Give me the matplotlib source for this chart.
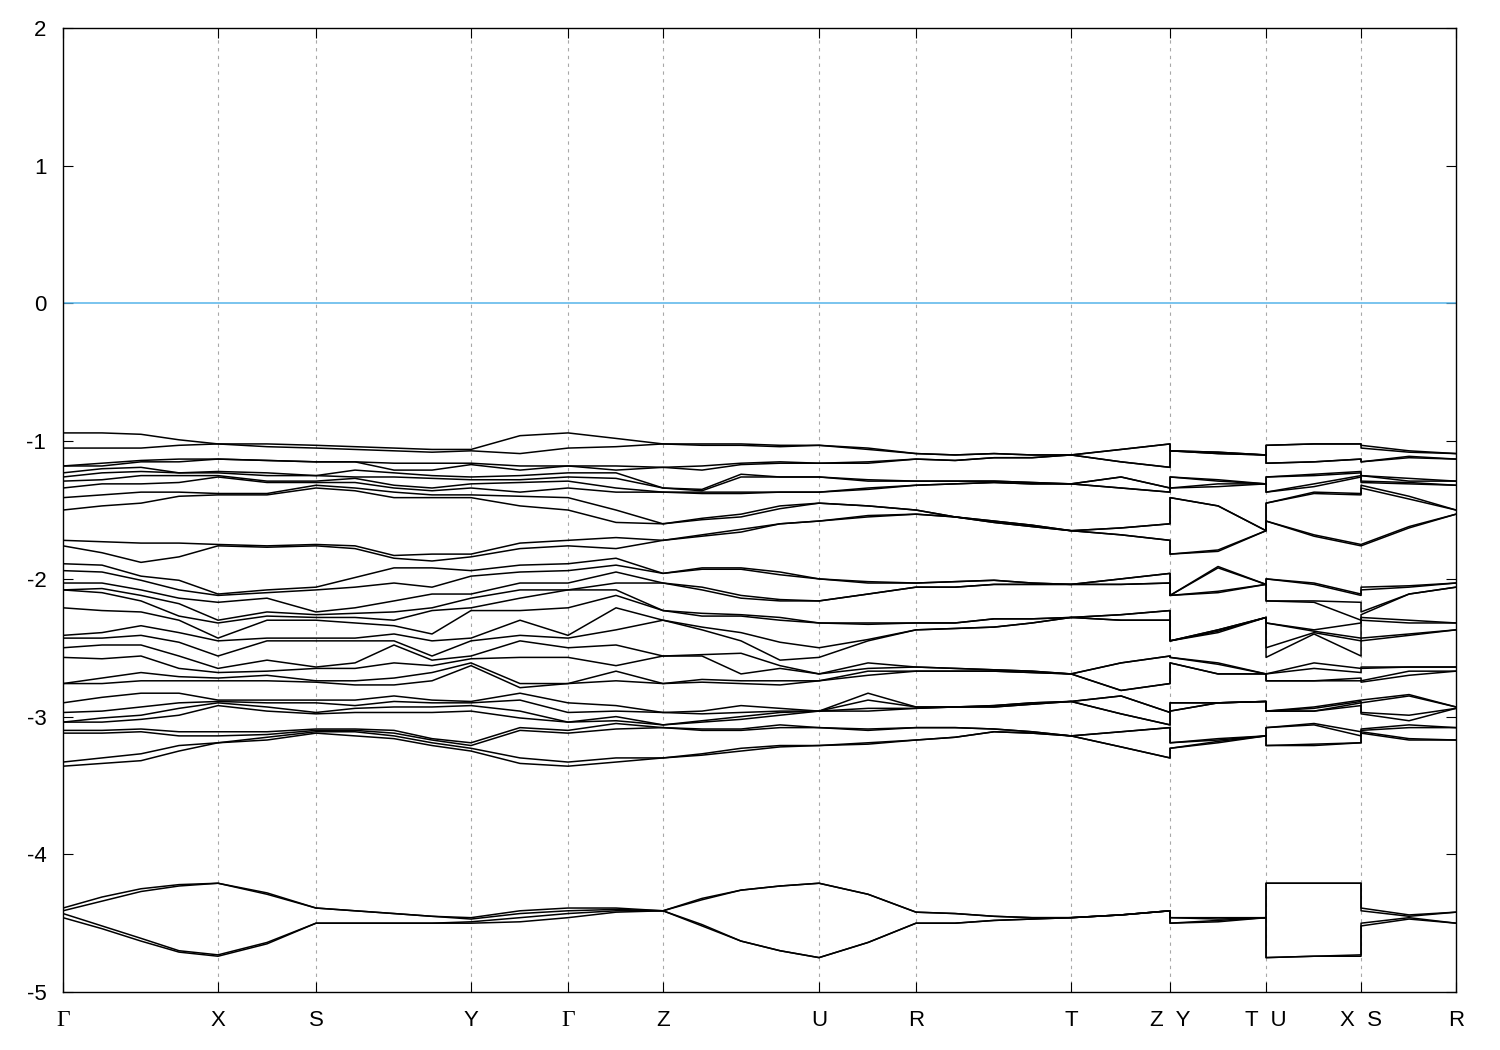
import matplotlib.pyplot as plt
import numpy as np

plt.rcParams["font.family"] = ["Liberation Sans", "DejaVu Sans"]
plt.rcParams["axes.unicode_minus"] = False

# high-symmetry points along the path
tick_pos = [0.0, 0.155, 0.253, 0.408, 0.505, 0.600, 0.756, 0.853, 1.008, 1.107, 1.203, 1.298, 1.393]
tick_labels = ["Γ", "X", "S", "Y", "Γ", "Z", "U", "R", "T", "Z  Y", "T  U", "X  S", "R"]

# sampled k positions (a repeated value marks a break in the path)
kpts = [0.000, 0.039, 0.078, 0.116, 0.155, 0.204, 0.253, 0.292, 0.331, 0.369,
        0.408, 0.457, 0.505, 0.553, 0.600, 0.639, 0.678, 0.717, 0.756, 0.805,
        0.853, 0.892, 0.931, 0.969, 1.008, 1.058, 1.107, 1.107, 1.155, 1.203,
        1.203, 1.251, 1.298, 1.298, 1.346, 1.393]

# valence bands (eV), one list per k sample
e_G = [-0.94, -1.05, -1.18, -1.18, -1.23, -1.26, -1.29, -1.34, -1.41, -1.50, -1.72, -1.76,
       -1.89, -1.94, -2.03, -2.08, -2.08, -2.21, -2.41, -2.43, -2.50, -2.57, -2.76, -2.76,
       -2.90, -2.97, -3.04, -3.04, -3.10, -3.12, -3.33, -3.36]
e_gx1 = [-0.94, -1.05, -1.16, -1.18, -1.20, -1.23, -1.28, -1.31, -1.39, -1.47, -1.73, -1.81,
         -1.90, -1.95, -2.03, -2.07, -2.10, -2.23, -2.39, -2.43, -2.48, -2.58, -2.72, -2.76,
         -2.86, -2.96, -3.01, -3.04, -3.10, -3.12, -3.30, -3.34]
e_gx2 = [-0.95, -1.05, -1.14, -1.15, -1.19, -1.22, -1.25, -1.31, -1.37, -1.45, -1.74, -1.88,
         -1.98, -2.01, -2.08, -2.12, -2.16, -2.24, -2.34, -2.41, -2.48, -2.56, -2.68, -2.74,
         -2.83, -2.93, -2.99, -3.02, -3.09, -3.11, -3.27, -3.32]
e_gx3 = [-0.99, -1.03, -1.13, -1.15, -1.23, -1.23, -1.25, -1.30, -1.37, -1.40, -1.74, -1.84,
         -2.01, -2.08, -2.14, -2.18, -2.27, -2.30, -2.39, -2.46, -2.56, -2.65, -2.71, -2.74,
         -2.83, -2.90, -2.94, -2.99, -3.11, -3.14, -3.21, -3.25]
e_X = [-1.02, -1.02, -1.13, -1.13, -1.22, -1.23, -1.25, -1.26, -1.38, -1.39, -1.75, -1.76,
       -2.11, -2.12, -2.17, -2.30, -2.32, -2.43, -2.45, -2.56, -2.65, -2.68, -2.72, -2.74,
       -2.88, -2.89, -2.90, -2.92, -3.11, -3.14, -3.19, -3.19]
e_xs1 = [-1.02, -1.04, -1.14, -1.14, -1.23, -1.25, -1.29, -1.30, -1.38, -1.39, -1.76, -1.77,
         -2.08, -2.10, -2.14, -2.24, -2.27, -2.30, -2.43, -2.45, -2.59, -2.67, -2.70, -2.74,
         -2.88, -2.90, -2.93, -2.96, -3.11, -3.13, -3.15, -3.17]
e_S = [-1.03, -1.05, -1.15, -1.15, -1.25, -1.25, -1.29, -1.30, -1.32, -1.34, -1.75, -1.76,
       -2.06, -2.08, -2.24, -2.26, -2.28, -2.30, -2.43, -2.45, -2.64, -2.65, -2.74, -2.75,
       -2.88, -2.90, -2.97, -2.98, -3.09, -3.10, -3.11, -3.12]
e_sy1 = [-1.04, -1.06, -1.15, -1.15, -1.21, -1.26, -1.27, -1.30, -1.34, -1.36, -1.76, -1.78,
         -1.99, -2.06, -2.21, -2.25, -2.28, -2.32, -2.43, -2.45, -2.61, -2.65, -2.74, -2.77,
         -2.88, -2.92, -2.94, -2.97, -3.09, -3.10, -3.11, -3.14]
e_sy2 = [-1.05, -1.07, -1.16, -1.21, -1.23, -1.26, -1.32, -1.34, -1.37, -1.41, -1.83, -1.85,
         -1.92, -2.03, -2.16, -2.24, -2.30, -2.34, -2.40, -2.45, -2.48, -2.61, -2.72, -2.77,
         -2.85, -2.89, -2.93, -2.97, -3.10, -3.12, -3.14, -3.16]
e_sy3 = [-1.06, -1.08, -1.16, -1.21, -1.25, -1.27, -1.34, -1.36, -1.39, -1.41, -1.82, -1.87,
         -1.92, -2.06, -2.11, -2.21, -2.23, -2.40, -2.45, -2.56, -2.59, -2.63, -2.68, -2.74,
         -2.88, -2.90, -2.93, -2.97, -3.16, -3.17, -3.19, -3.21]
e_Y = [-1.06, -1.07, -1.16, -1.17, -1.26, -1.28, -1.31, -1.34, -1.39, -1.41, -1.82, -1.84,
       -1.94, -1.98, -2.11, -2.14, -2.21, -2.23, -2.43, -2.45, -2.56, -2.58, -2.61, -2.63,
       -2.89, -2.90, -2.92, -2.96, -3.19, -3.21, -3.23, -3.25]
e_yg1 = [-0.96, -1.09, -1.18, -1.21, -1.25, -1.28, -1.30, -1.37, -1.40, -1.47, -1.74, -1.78,
         -1.90, -1.95, -2.03, -2.08, -2.14, -2.23, -2.30, -2.41, -2.45, -2.57, -2.76, -2.79,
         -2.83, -2.88, -2.96, -3.01, -3.08, -3.10, -3.30, -3.34]
e_gz1 = [-0.98, -1.04, -1.18, -1.21, -1.23, -1.27, -1.34, -1.37, -1.50, -1.59, -1.70, -1.78,
         -1.85, -1.90, -1.95, -2.03, -2.08, -2.12, -2.21, -2.37, -2.48, -2.63, -2.67, -2.74,
         -2.92, -2.96, -3.00, -3.03, -3.05, -3.09, -3.30, -3.33]
e_Z = [-1.02, -1.02, -1.19, -1.19, -1.34, -1.34, -1.37, -1.37, -1.60, -1.60, -1.72, -1.72,
       -1.96, -1.96, -2.03, -2.03, -2.23, -2.23, -2.30, -2.30, -2.56, -2.56, -2.76, -2.76,
       -2.97, -2.97, -3.06, -3.06, -3.08, -3.08, -3.30, -3.30]
e_zu1 = [-1.02, -1.03, -1.18, -1.21, -1.35, -1.36, -1.37, -1.38, -1.56, -1.57, -1.68, -1.69,
         -1.92, -1.93, -2.06, -2.08, -2.25, -2.27, -2.35, -2.37, -2.55, -2.56, -2.73, -2.75,
         -2.96, -2.98, -3.03, -3.04, -3.09, -3.10, -3.27, -3.28]
e_zu2 = [-1.02, -1.03, -1.16, -1.17, -1.24, -1.26, -1.37, -1.38, -1.53, -1.55, -1.64, -1.66,
         -1.92, -1.93, -2.12, -2.14, -2.26, -2.27, -2.39, -2.45, -2.54, -2.69, -2.74, -2.76,
         -2.92, -2.97, -3.00, -3.02, -3.09, -3.10, -3.23, -3.25]
e_zu3 = [-1.03, -1.04, -1.15, -1.16, -1.26, -1.26, -1.37, -1.37, -1.47, -1.49, -1.60, -1.60,
         -1.95, -1.97, -2.15, -2.16, -2.28, -2.30, -2.46, -2.59, -2.63, -2.65, -2.74, -2.77,
         -2.94, -2.96, -2.97, -2.99, -3.06, -3.08, -3.21, -3.22]
e_U = [-1.03, -1.03, -1.16, -1.16, -1.26, -1.26, -1.37, -1.37, -1.45, -1.45, -1.58, -1.58,
       -2.00, -2.00, -2.16, -2.16, -2.32, -2.32, -2.50, -2.57, -2.69, -2.69, -2.74, -2.74,
       -2.96, -2.96, -2.96, -2.96, -3.08, -3.08, -3.21, -3.21]
e_ur1 = [-1.05, -1.06, -1.15, -1.16, -1.28, -1.29, -1.34, -1.35, -1.47, -1.47, -1.54, -1.55,
         -2.02, -2.03, -2.11, -2.11, -2.32, -2.33, -2.44, -2.45, -2.61, -2.65, -2.67, -2.70,
         -2.83, -2.88, -2.94, -2.96, -3.09, -3.10, -3.19, -3.20]
e_R = [-1.09, -1.09, -1.13, -1.13, -1.29, -1.29, -1.32, -1.32, -1.50, -1.50, -1.53, -1.53,
       -2.03, -2.03, -2.06, -2.06, -2.32, -2.32, -2.37, -2.37, -2.64, -2.64, -2.67, -2.67,
       -2.93, -2.93, -2.94, -2.94, -3.08, -3.08, -3.17, -3.17]
e_rt1 = [-1.10, -1.10, -1.14, -1.14, -1.29, -1.29, -1.31, -1.31, -1.55, -1.55, -1.55, -1.55,
         -2.02, -2.02, -2.06, -2.06, -2.32, -2.32, -2.36, -2.36, -2.65, -2.65, -2.67, -2.67,
         -2.93, -2.93, -2.93, -2.93, -3.08, -3.08, -3.15, -3.15]
e_rt2 = [-1.09, -1.09, -1.12, -1.12, -1.29, -1.29, -1.30, -1.30, -1.58, -1.58, -1.59, -1.59,
         -2.01, -2.01, -2.04, -2.04, -2.29, -2.29, -2.35, -2.35, -2.66, -2.66, -2.67, -2.67,
         -2.92, -2.92, -2.93, -2.93, -3.09, -3.09, -3.11, -3.11]
e_rt3 = [-1.10, -1.10, -1.12, -1.12, -1.30, -1.30, -1.31, -1.31, -1.61, -1.61, -1.62, -1.62,
         -2.03, -2.03, -2.04, -2.04, -2.29, -2.29, -2.32, -2.32, -2.67, -2.67, -2.68, -2.68,
         -2.90, -2.90, -2.91, -2.91, -3.11, -3.11, -3.12, -3.12]
e_T = [-1.10, -1.10, -1.10, -1.10, -1.31, -1.31, -1.31, -1.31, -1.65, -1.65, -1.65, -1.65,
       -2.04, -2.04, -2.04, -2.04, -2.28, -2.28, -2.28, -2.28, -2.69, -2.69, -2.69, -2.69,
       -2.89, -2.89, -2.89, -2.89, -3.14, -3.14, -3.14, -3.14]
e_tz1 = [-1.06, -1.06, -1.15, -1.15, -1.26, -1.26, -1.34, -1.34, -1.63, -1.63, -1.68, -1.68,
         -2.00, -2.00, -2.04, -2.04, -2.26, -2.26, -2.30, -2.30, -2.61, -2.61, -2.81, -2.81,
         -2.85, -2.85, -2.98, -2.98, -3.11, -3.11, -3.22, -3.22]
e_Y2 = [-1.07, -1.07, -1.07, -1.07, -1.26, -1.26, -1.34, -1.34, -1.41, -1.41, -1.82, -1.82,
        -2.12, -2.12, -2.12, -2.12, -2.45, -2.45, -2.45, -2.45, -2.57, -2.57, -2.61, -2.61,
        -2.90, -2.90, -2.96, -2.96, -3.19, -3.19, -3.23, -3.23]
e_yt1 = [-1.08, -1.08, -1.09, -1.09, -1.28, -1.29, -1.31, -1.33, -1.47, -1.47, -1.79, -1.80,
         -1.91, -1.92, -2.09, -2.10, -2.37, -2.37, -2.38, -2.39, -2.61, -2.62, -2.69, -2.69,
         -2.90, -2.90, -2.90, -2.90, -3.16, -3.17, -3.18, -3.19]
e_ux1 = [-1.02, -1.02, -1.15, -1.15, -1.24, -1.25, -1.31, -1.33, -1.37, -1.38, -1.68, -1.69,
         -2.03, -2.04, -2.16, -2.17, -2.37, -2.38, -2.39, -2.40, -2.61, -2.65, -2.74, -2.74,
         -2.93, -2.94, -2.96, -2.96, -3.05, -3.06, -3.20, -3.21]
e_sr1 = [-1.07, -1.08, -1.11, -1.12, -1.27, -1.29, -1.30, -1.31, -1.40, -1.42, -1.62, -1.63,
         -2.05, -2.06, -2.11, -2.11, -2.30, -2.32, -2.40, -2.41, -2.64, -2.64, -2.67, -2.70,
         -2.84, -2.85, -2.99, -3.03, -3.06, -3.08, -3.16, -3.17]

# semicore bands near -4.5 eV
d_G = [-4.39, -4.41, -4.43, -4.46]
d_gx1 = [-4.31, -4.34, -4.52, -4.54]
d_gx2 = [-4.25, -4.27, -4.61, -4.63]
d_gx3 = [-4.22, -4.23, -4.70, -4.71]
d_X = [-4.21, -4.21, -4.73, -4.74]
d_xs1 = [-4.28, -4.29, -4.64, -4.65]
d_S = [-4.39, -4.39, -4.50, -4.50]
d_sy1 = [-4.41, -4.41, -4.50, -4.50]
d_sy2 = [-4.43, -4.43, -4.50, -4.50]
d_sy3 = [-4.45, -4.45, -4.50, -4.50]
d_Y = [-4.46, -4.47, -4.49, -4.50]
d_yg1 = [-4.41, -4.43, -4.46, -4.49]
d_gz1 = [-4.39, -4.40, -4.41, -4.42]
d_Z = [-4.41, -4.41, -4.41, -4.41]
d_zu1 = [-4.32, -4.33, -4.51, -4.52]
d_zu2 = [-4.26, -4.26, -4.63, -4.63]
d_zu3 = [-4.23, -4.23, -4.70, -4.70]
d_U = [-4.21, -4.21, -4.75, -4.75]
d_ur1 = [-4.29, -4.29, -4.64, -4.64]
d_R = [-4.42, -4.42, -4.50, -4.50]
d_rt1 = [-4.43, -4.43, -4.50, -4.50]
d_rt2 = [-4.45, -4.45, -4.48, -4.48]
d_rt3 = [-4.46, -4.46, -4.47, -4.47]
d_T = [-4.46, -4.46, -4.46, -4.46]
d_tz1 = [-4.44, -4.44, -4.44, -4.44]
d_Y2 = [-4.46, -4.46, -4.50, -4.50]
d_yt1 = [-4.46, -4.47, -4.48, -4.49]
d_ux1 = [-4.21, -4.21, -4.74, -4.74]
d_S2 = [-4.39, -4.41, -4.50, -4.52]
d_sr1 = [-4.44, -4.45, -4.46, -4.47]

valence = [e_G, e_gx1, e_gx2, e_gx3, e_X, e_xs1, e_S, e_sy1, e_sy2, e_sy3, e_Y, e_yg1,
           e_G, e_gz1, e_Z, e_zu1, e_zu2, e_zu3, e_U, e_ur1, e_R, e_rt1, e_rt2, e_rt3,
           e_T, e_tz1, e_Z, e_Y2, e_yt1, e_T, e_U, e_ux1, e_X, e_S, e_sr1, e_R]
semicore = [d_G, d_gx1, d_gx2, d_gx3, d_X, d_xs1, d_S, d_sy1, d_sy2, d_sy3, d_Y, d_yg1,
            d_G, d_gz1, d_Z, d_zu1, d_zu2, d_zu3, d_U, d_ur1, d_R, d_rt1, d_rt2, d_rt3,
            d_T, d_tz1, d_Z, d_Y2, d_yt1, d_T, d_U, d_ux1, d_X, d_S2, d_sr1, d_R]

fig, ax = plt.subplots(figsize=(15, 10.5), dpi=100)
fig.subplots_adjust(left=0.042, right=0.9707, bottom=0.0552, top=0.9733)

for xt in tick_pos[1:-1]:
    ax.axvline(xt, color="#a8a8a8", lw=0.8, ls=(0, (3, 4)), zorder=1)
ax.axhline(0.0, color="#56b4e9", lw=1.1, zorder=2)

for group in (valence, semicore):
    bands = np.sort(np.array(group), axis=1)
    for j in range(bands.shape[1]):
        ax.plot(kpts, bands[:, j], color="black", lw=1.1, zorder=3)

ax.set_xlim(tick_pos[0], tick_pos[-1])
ax.set_ylim(-5, 2)
ax.set_xticks(tick_pos, tick_labels)
ax.set_yticks(range(-5, 3))
ax.tick_params(direction="in", top=True, right=True, length=7, width=0.8, labelsize=16)
ax.tick_params(axis="x", pad=13)
ax.tick_params(axis="y", pad=12)
for lab in ax.get_xticklabels():
    if "Γ" in lab.get_text():
        lab.set_fontfamily(["Liberation Serif", "DejaVu Serif"])
        lab.set_fontsize(17)
for spine in ax.spines.values():
    spine.set_linewidth(1.0)
    spine.set_color("black")

fig.savefig("out.png", dpi=100)
